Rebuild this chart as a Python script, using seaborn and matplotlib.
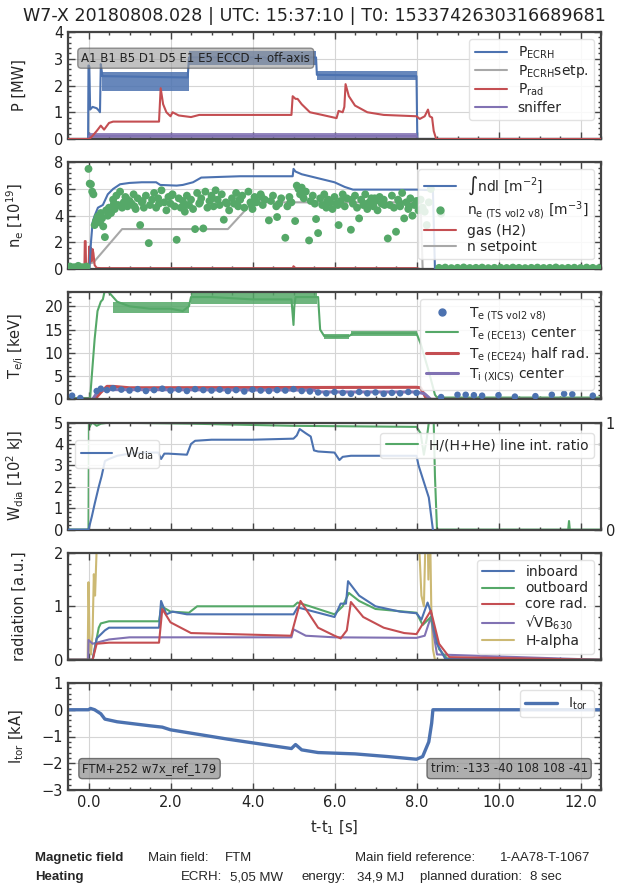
import numpy as np
import pandas as pd
import seaborn as sns
import matplotlib.pyplot as plt
from matplotlib.ticker import MultipleLocator, AutoMinorLocator
from matplotlib.lines import Line2D

# ---------------- data (breakpoints in t-t1 [s]) ----------------
# panel 1: heating power [MW]
ecrh_t = [-0.5, -0.01, 0.0, 0.02, 0.04, 0.1, 0.2, 0.26, 0.28, 0.3, 0.34, 2.42, 2.45, 4.3, 4.35, 5.55, 5.57, 8.0, 8.02, 12.5]
ecrh_v = [0, 0, 2.75, 2.7, 1.1, 1.2, 1.15, 1.05, 1.0, 2.8, 2.35, 2.3, 3.05, 3.05, 3.0, 3.05, 2.4, 2.35, 0, 0]
# noise bands of P_ECRH, one (start, end, low, high) per heating step
ecrh_band_t0 = [0.32, 2.45, 5.57]
ecrh_band_t1 = [2.44, 5.55, 8.0]
ecrh_lo = [1.8, 2.75, 2.2]
ecrh_hi = [2.5, 3.3, 2.55]
ecrh_set_t = [-0.5, 12.5]
ecrh_set_v = [0, 0]
prad_t = [-0.5, 0.02, 0.1, 0.2, 0.3, 0.38, 0.5, 0.6, 1.72, 1.76, 1.82, 1.9, 2.0, 2.05, 2.2, 2.5, 2.7, 4.95,
          4.98, 5.05, 5.1, 5.2, 5.4, 5.7, 6.05, 6.1, 6.2, 6.24, 6.27, 6.35, 6.5, 6.8, 7.2, 8.0, 8.08, 8.2,
          8.28, 8.32, 8.38, 8.42, 8.48, 12.5]
prad_v = [0, 0, 0.12, 0.3, 0.5, 0.35, 0.6, 0.65, 0.65, 1.9, 1.3, 1.0, 0.85, 1.0, 0.88, 0.82, 0.9, 0.9,
          1.6, 1.5, 1.5, 1.3, 1.0, 0.9, 0.78, 1.05, 1.0, 1.2, 2.05, 1.6, 1.25, 1.0, 0.9, 0.85, 0.75, 0.85,
          1.1, 0.85, 0.8, 0.3, 0, 0]
sniff_t = [-0.5, 0.0, 0.02, 8.0, 8.02, 12.5]
sniff_v = [0, 0, 0.12, 0.12, 0, 0]
sniff_lo = [0.03]
sniff_hi = [0.22]

# panel 2: density [1e19]
ndl_t = [-0.5, 0.02, 0.06, 0.1, 0.15, 0.23, 0.35, 0.47, 0.6, 0.77, 1.0, 1.3, 1.65, 1.75, 2.15, 2.3, 2.55,
         2.75, 3.2, 3.7, 4.98, 5.0, 5.05, 5.2, 5.6, 6.0, 6.25, 6.45, 8.0, 8.4, 8.45, 12.5]
ndl_v = [0, 0, 2.0, 3.5, 4.0, 4.6, 4.8, 5.6, 6.0, 6.35, 6.45, 6.5, 6.5, 6.3, 6.25, 6.3, 6.5,
         6.85, 6.9, 6.95, 6.95, 7.5, 7.3, 7.1, 6.8, 6.5, 6.15, 5.95, 5.95, 5.9, 0, 0]
nset_t = [-0.5, 0.12, 0.82, 3.4, 4.0, 8.1, 8.15, 12.5]
nset_v = [0, 0.5, 3.0, 3.0, 5.0, 5.0, 0, 0]
gas_t = [-0.5, -0.1, -0.09, -0.07, -0.06, 0.0, 0.02, 0.04, 0.06, 0.08, 0.1, 0.12, 0.15, 0.2, 0.3,
         4.98, 5.0, 5.04, 8.0, 8.1, 12.5]
gas_v = [0, 0, 2.1, 2.1, 0.1, 0.1, 1.7, 0.5, 1.6, 0.6, 1.5, 1.2, 0.3, 0.1, 0.08,
         0.08, 0.22, 0.08, 0.08, 0, 0]
ts_ne_t = [-0.45, -0.35, -0.25, -0.15, -0.05,
           0.0, 0.03, 0.06, 0.09, 0.12, 0.15, 0.18, 0.22, 0.25, 0.28, 0.3, 0.33, 0.36, 0.4, 0.43, 0.47,
           0.5, 0.55, 0.6, 0.64, 0.68, 0.72, 0.77, 0.82, 0.86, 0.9, 0.95, 1.0, 1.05, 1.1, 1.15, 1.2,
           1.26, 1.3, 1.35, 1.4, 1.47, 1.5, 1.55, 1.6, 1.65, 1.7, 1.78, 1.85, 1.9, 1.95, 2.0, 2.05,
           2.1, 2.15, 2.2, 2.25, 2.3, 2.35, 2.4, 2.45, 2.5, 2.55, 2.6, 2.65, 2.7, 2.75, 2.8, 2.85,
           2.9, 2.95, 3.0, 3.05, 3.1, 3.15, 3.2, 3.25, 3.3, 3.35, 3.43, 3.5, 3.55, 3.6, 3.65, 3.7,
           3.75, 3.8, 3.9, 3.95, 4.0, 4.05, 4.1, 4.2, 4.25, 4.3, 4.4, 4.45, 4.5, 4.6, 4.65, 4.7,
           4.8, 4.85, 4.9, 4.95, 5.04, 5.08, 5.12, 5.16, 5.2, 5.25, 5.3, 5.38, 5.42, 5.47, 5.55,
           5.6, 5.65, 5.7, 5.75, 5.8, 5.85, 5.9, 5.95, 6.0, 6.05, 6.1, 6.15, 6.2, 6.25, 6.3, 6.4,
           6.45, 6.5, 6.55, 6.6, 6.65, 6.7, 6.75, 6.8, 6.85, 6.9, 6.95, 7.0, 7.05, 7.1, 7.15, 7.2,
           7.3, 7.35, 7.4, 7.45, 7.5, 7.55, 7.6, 7.65, 7.7, 7.75, 7.8, 7.85, 7.9, 7.95, 8.0, 8.05,
           8.1, 8.15, 8.2, 8.25, 8.3, 8.35, 8.6,
           0.62, 0.92, 1.12, 1.32, 1.72, 2.02, 2.38, 2.72, 3.02, 3.38, 3.68, 3.98, 4.22, 4.58, 4.92,
           5.22, 5.52, 5.82, 6.08, 6.42, 6.72, 6.98, 7.22, 7.58, 7.82,
           8.55, 8.7, 8.85, 9.0, 9.15, 9.3, 9.45, 9.6, 9.75, 9.9, 10.05, 10.2, 10.35, 10.5, 10.65,
           10.8, 10.95, 11.1, 11.25, 11.4, 11.55, 11.7, 11.85, 12.0, 12.15, 12.3, 12.45]
ts_ne_v = [0.2, 0.15, 0.25, 0.15, 0.2,
           7.5, 6.4, 6.35, 5.8, 5.6, 3.3, 3.6, 3.9, 4.0, 3.5, 4.2, 3.8, 3.2, 2.4, 4.4, 4.0,
           4.6, 4.2, 5.2, 4.5, 5.5, 4.8, 5.8, 4.6, 5.0, 5.4, 4.7, 5.1, 4.9, 5.6, 4.5, 5.3,
           3.3, 5.0, 4.6, 5.5, 1.95, 4.8, 5.2, 5.7, 4.6, 5.3, 5.9, 5.0, 4.4, 5.4, 4.9, 5.6,
           4.7, 2.2, 5.3, 4.6, 5.1, 4.3, 5.5, 4.8, 5.2, 4.5, 3.0, 5.7, 4.9, 5.3, 3.05, 5.8,
           4.6, 5.1, 5.5, 4.7, 5.9, 5.2, 4.8, 5.6, 3.7, 5.0, 4.4, 5.3, 4.9, 5.7, 4.7, 5.2,
           5.5, 4.6, 5.8, 5.0, 4.5, 5.4, 5.0, 5.6, 4.8, 5.2, 3.65, 5.1, 5.5, 3.9, 4.9, 5.3,
           2.35, 4.7, 5.4, 5.0, 3.6, 6.25, 6.0, 5.6, 6.1, 5.3, 5.8, 2.15, 5.1, 5.5, 3.75,
           2.7, 5.3, 4.8, 5.6, 4.6, 5.2, 5.0, 4.5, 5.4, 4.9, 3.3, 5.1, 5.6, 4.7, 5.3, 2.95,
           4.9, 5.5, 4.6, 3.8, 5.2, 4.8, 5.6, 4.5, 5.0, 5.3, 4.7, 5.1, 4.4, 5.4, 4.9, 5.2,
           2.3, 4.8, 5.5, 4.6, 2.8, 5.2, 4.7, 5.7, 3.8, 5.0, 4.5, 5.3, 4.0, 4.8, 5.1, 4.4,
           5.2, 4.6, 4.3, 3.3, 5.0, 6.0, 4.15,
           4.9, 5.3, 4.7, 5.1, 4.9, 5.5, 4.8, 5.0, 5.3, 4.9, 5.2, 4.8, 5.4, 4.7, 5.0,
           5.5, 4.9, 5.1, 4.8, 5.2, 4.9, 5.3, 4.8, 5.0, 4.7,
           0.1, 0.12, 0.08, 0.1, 0.13, 0.09, 0.1, 0.12, 0.08, 0.1, 0.11, 0.09, 0.12, 0.1, 0.08,
           0.1, 0.12, 0.09, 0.1, 0.13, 0.08, 0.1, 0.11, 0.09, 0.12, 0.1, 0.08]

# panel 3: temperatures [keV]
ece13_t = [-0.5, 0.04, 0.08, 0.15, 0.22, 0.3, 0.35, 0.4, 0.5, 0.7, 1.0, 1.5, 2.0, 2.3, 2.45, 2.5, 3.0, 4.0,
           4.95, 5.0, 5.02, 5.05, 5.1, 5.6, 5.65, 5.75, 6.0, 6.35, 6.45, 7.0, 8.0, 8.1, 8.3, 8.45, 8.5, 12.5]
ece13_v = [0.3, 0.3, 5.0, 13.0, 19.0, 21.0, 21.5, 23.5, 23.0, 21.0, 20.0, 19.5, 19.5, 19.0, 20.0, 22.0, 22.0, 21.5,
           21.5, 16.0, 20.0, 22.0, 22.0, 22.0, 15.0, 13.6, 13.5, 13.6, 14.2, 14.2, 14.2, 12.0, 6.0, 1.0, 0.4, 0.4]
ece13_band_t0 = [0.6, 2.5, 5.75, 6.4]
ece13_band_t1 = [2.45, 5.58, 6.35, 8.0]
ece13_lo = [18.6, 20.6, 13.0, 13.6]
ece13_hi = [21.0, 23.5, 14.1, 14.7]
ece24_t = [-0.5, 0.15, 0.3, 0.45, 0.6, 1.0, 8.0, 8.1, 8.25, 12.5]
ece24_v = [0, 0, 1.5, 2.8, 2.8, 2.5, 2.6, 2.5, 0, 0]
xics_t = [-0.5, 0.1, 0.25, 0.5, 5.5, 5.6, 8.0, 8.2, 8.35, 12.5]
xics_v = [0, 0, 2.0, 2.1, 2.0, 1.6, 1.6, 1.2, 0, 0]
ts_te_t = [-0.4, -0.2, 0.2, 0.3, 0.45, 0.6, 0.8, 1.0, 1.2, 1.4, 1.6, 1.8, 2.0, 2.2, 2.4, 2.6, 2.8, 3.0,
           3.2, 3.4, 3.6, 3.8, 4.0, 4.2, 4.4, 4.6, 4.8, 5.0, 5.2, 5.4, 5.6, 5.8, 6.0, 6.2, 6.4, 6.6,
           6.8, 7.0, 7.2, 7.4, 7.6, 7.8, 8.0,
           8.6, 9.0, 9.2, 9.4, 9.6, 10.0, 10.4, 10.9, 11.3, 11.6, 11.8, 12.3]
ts_te_v = [0.8, 0.3, 1.8, 2.3, 2.0, 2.4, 2.1, 1.9, 2.2, 1.8, 2.0, 2.3, 1.9, 2.1, 1.8, 2.2, 2.0, 1.9,
           2.1, 1.8, 2.0, 1.7, 2.1, 1.9, 1.8, 2.0, 1.9, 2.2, 1.8, 1.7, 1.5, 1.3, 1.6, 1.4, 1.2, 1.6,
           1.3, 1.5, 1.2, 1.4, 1.3, 1.6, 1.4,
           0.5, 1.0, 1.0, 0.9, 0.8, 0.9, 0.6, 0.7, 1.0, 1.2, 1.1, 0.8]

# panel 4: diamagnetic energy [1e2 kJ] and H/(H+He) ratio
wdia_t = [-0.5, 0.0, 0.08, 0.15, 0.25, 0.32, 0.4, 0.5, 0.7, 1.0, 1.3, 1.7, 1.77, 1.85, 1.95, 2.4, 2.5, 2.6,
          3.0, 4.0, 5.0, 5.08, 5.15, 5.3, 5.42, 5.5, 5.6, 6.0, 6.12, 6.2, 6.4, 7.0, 8.0, 8.05, 8.15, 8.3, 8.4]
wdia_v = [0, 0, 0.6, 1.2, 2.0, 2.5, 3.2, 3.3, 3.45, 3.55, 3.6, 3.6, 3.3, 3.55, 3.55, 3.5, 4.0, 4.15,
          4.2, 4.2, 4.25, 4.4, 4.7, 4.5, 4.35, 3.7, 3.65, 3.6, 3.25, 3.4, 3.45, 3.45, 3.45, 3.0, 2.4, 1.5, 0]
hratio_t = [-0.5, 0.0, 0.01, 0.03, 0.05, 0.1, 0.2, 0.3, 0.5, 2.5, 5.0, 8.0, 8.1, 8.18, 8.25, 8.3, 8.42,
            8.45, 8.5, 11.7, 11.72, 11.74, 12.5]
hratio_v = [0, 0, 1.0, 0.96, 0.98, 1.0, 0.97, 0.99, 1.0, 0.99, 0.97, 0.96, 0.9, 0.7, 0.85, 1.0, 1.0,
            0.5, 0, 0, 0.08, 0, 0]

# panel 5: radiation [a.u.]
inb_t = [-0.5, 0.1, 0.2, 0.4, 0.5, 1.72, 1.77, 1.9, 2.05, 2.4, 5.0, 5.1, 5.5, 6.0, 6.15, 6.28, 6.33, 6.6,
         7.0, 7.6, 8.0, 8.12, 8.27, 8.35, 8.5, 8.7, 12.5]
inb_v = [0, 0, 0.4, 0.55, 0.6, 0.6, 1.1, 0.85, 0.9, 0.85, 0.85, 0.98, 0.9, 0.8, 1.05, 1.05, 1.47, 1.2,
         1.0, 0.9, 0.87, 0.75, 1.07, 0.9, 0.3, 0.02, 0]
outb_t = [-0.5, 0.1, 0.25, 0.3, 0.5, 1.72, 1.78, 2.0, 2.45, 2.65, 5.0, 5.1, 5.4, 6.0, 6.2, 6.35, 6.6,
          7.0, 8.0, 8.15, 8.35, 8.55, 8.75, 12.5]
outb_v = [0, 0, 0.6, 0.68, 0.72, 0.72, 1.0, 0.9, 0.88, 1.0, 1.0, 1.07, 1.0, 0.85, 1.0, 1.25, 1.1,
          0.95, 0.88, 0.65, 0.8, 0.2, 0.02, 0]
core_t = [-0.5, 0.1, 0.2, 0.5, 1.72, 1.8, 2.0, 2.5, 4.94, 5.17, 5.6, 6.0, 6.15, 6.3, 6.4, 6.7, 7.2,
          7.7, 8.0, 8.35, 8.55, 8.8, 12.5]
core_v = [0, 0, 0.3, 0.32, 0.32, 0.95, 0.7, 0.5, 0.45, 1.1, 0.6, 0.45, 0.4, 0.55, 1.08, 0.8, 0.6,
          0.5, 0.48, 0.92, 0.3, 0.05, 0]
svb_t = [-0.5, -0.01, 0.0, 0.1, 0.25, 0.5, 1.0, 4.95, 5.0, 5.3, 6.0, 8.0, 8.2, 8.35, 8.5, 12.5]
svb_v = [0, 0, 0.37, 0.3, 0.33, 0.38, 0.42, 0.42, 0.57, 0.45, 0.42, 0.41, 0.45, 0.8, 0.1, 0]
halpha_t = [-0.5, -0.02, 0.0, 0.03, 0.06, 0.1, 0.13, 0.16, 0.2, 0.25, 0.3, 8.0, 8.05, 8.12, 8.18, 8.22,
            8.26, 8.29, 8.32, 8.36, 8.4, 8.45, 12.5]
halpha_v = [0, 0, 1.45, 0.2, 0.1, 0.5, 1.6, 1.2, 2.1, 3.0, 3.0, 3.0, 2.4, 1.2, 1.0, 2.3,
            3.0, 1.5, 3.0, 1.0, 0.2, 0, 0]

# panel 6: toroidal current [kA]
itor_t = [-0.5, 0.0, 0.05, 0.15, 0.3, 0.4, 0.7, 1.5, 1.8, 2.0, 2.6, 3.4, 4.5, 4.95, 5.05, 5.2, 5.6,
          6.5, 7.3, 8.0, 8.15, 8.3, 8.37, 8.4, 12.5]
itor_v = [0, 0, 0.05, 0.0, -0.15, -0.35, -0.45, -0.6, -0.65, -0.75, -0.9, -1.1, -1.35, -1.45, -1.3,
          -1.5, -1.6, -1.65, -1.75, -1.85, -1.75, -1.2, -0.5, 0, 0]

# ---------------- style ----------------
sns.set_theme(style="whitegrid", palette="deep")
plt.rcParams["font.family"] = ["DejaVu Sans"]
plt.rcParams.update({
    "mathtext.default": "regular",
    "axes.edgecolor": "#444444",
    "axes.linewidth": 1.6,
    "grid.color": "#d5d5d5",
    "grid.linewidth": 0.8,
    "xtick.direction": "in", "ytick.direction": "in",
    "xtick.top": True, "ytick.right": True,
    "xtick.bottom": True, "ytick.left": True,
    "xtick.major.size": 5, "ytick.major.size": 5,
    "xtick.minor.size": 2.5, "ytick.minor.size": 2.5,
    "xtick.major.width": 1.0, "ytick.major.width": 1.0,
    "xtick.color": "#444444", "ytick.color": "#444444",
    "xtick.labelcolor": "#222222", "ytick.labelcolor": "#222222",
    "xtick.labelsize": 10.5, "ytick.labelsize": 10.5,
    "axes.labelsize": 10.5,
    "legend.fontsize": 10,
})

pal = sns.color_palette("deep")
blue, green, red, purple, khaki = pal[0], pal[2], pal[3], pal[4], pal[8]
gray = "#a8a8a8"


def line(ax, t, v, color, label=None, lw=1.5, z=2):
    sns.lineplot(x=t, y=v, ax=ax, color=color, lw=lw, estimator=None, sort=False, legend=False, zorder=z)
    ln = ax.lines[-1]
    if label:
        ln.set_label(label)
    return ln


def bands(ax, t0, t1, lo, hi, color):
    # noisy signal shown as a filled band per flat segment
    for a, b, l, h in zip(t0, t1, lo, hi):
        ax.fill_between([a, b], [l, l], [h, h], color=color, lw=0, alpha=0.85, zorder=2)


def legend(ax, handles, **kw):
    lg = ax.legend(handles=handles, frameon=True, fancybox=True, framealpha=0.85, edgecolor="#dddddd",
                   handlelength=2.3, labelspacing=0.15, borderpad=0.4, **kw)
    return lg


fig = plt.figure(figsize=(6.28, 8.86), dpi=100)
W, H = 628, 886
x0, x1 = 68, 601
axes = []
for i in range(6):
    top = 32 + i * 130.2
    ax = fig.add_axes([x0 / W, 1 - (top + 107) / H, (x1 - x0) / W, 107 / H])
    ax.set_xlim(-0.5, 12.5)
    ax.xaxis.set_major_locator(MultipleLocator(2))
    ax.xaxis.set_minor_locator(AutoMinorLocator(4))
    ax.yaxis.set_minor_locator(AutoMinorLocator(5))
    ax.grid(True, which="major")
    ax.grid(False, which="minor")
    if i < 5:
        ax.tick_params(labelbottom=False)
    axes.append(ax)

box = dict(boxstyle="round,pad=0.3", fc="#9a9a9a", ec="#555555", alpha=0.6)

# ---- panel 1
ax = axes[0]
bands(ax, ecrh_band_t0, ecrh_band_t1, ecrh_lo, ecrh_hi, blue)
h1 = line(ax, ecrh_t, ecrh_v, blue, r"P$_{ECRH}$")
h2 = line(ax, ecrh_set_t, ecrh_set_v, gray, r"P$_{ECRH}$setp.")
bands(ax, [0.02], [8.0], sniff_lo, sniff_hi, purple)
h4 = line(ax, sniff_t, sniff_v, purple, "sniffer")
h3 = line(ax, prad_t, prad_v, red, r"P$_{rad}$", z=3)
ax.set_ylim(0, 4)
ax.yaxis.set_major_locator(MultipleLocator(1))
ax.set_ylabel("P [MW]")
legend(ax, [h1, h2, h3, h4], loc="upper right")
ax.text(0.025, 0.755, "A1 B1 B5 D1 D5 E1 E5 ECCD + off-axis", transform=ax.transAxes,
        fontsize=8.5, va="center", ha="left", color="#222222", bbox=box, zorder=5)

# ---- panel 2
ax = axes[1]
h1 = line(ax, ndl_t, ndl_v, blue, r"∫ndl [m$^{-2}$]", z=3)
h4 = line(ax, nset_t, nset_v, gray, "n setpoint")
h3 = line(ax, gas_t, gas_v, red, "gas (H2)")
sns.scatterplot(x=ts_ne_t, y=ts_ne_v, ax=ax, color=green, s=32, edgecolor="none", zorder=4, legend=False)
h2 = Line2D([], [], marker="o", ls="none", color=green, markersize=5,
            label=r"n$_{e\ (TS\ vol2\ v8)}$ [m$^{-3}$]")
ax.set_ylim(0, 8)
ax.yaxis.set_major_locator(MultipleLocator(2))
ax.set_ylabel(r"n$_{e}$ [10$^{19}$]")
legend(ax, [h1, h2, h3, h4], loc="upper right")

# ---- panel 3
ax = axes[2]
bands(ax, ece13_band_t0, ece13_band_t1, ece13_lo, ece13_hi, green)
h2 = line(ax, ece13_t, ece13_v, green, r"T$_{e\ (ECE13)}$ center")
h3 = line(ax, ece24_t, ece24_v, red, r"T$_{e\ (ECE24)}$ half rad.", lw=2.2)
h4 = line(ax, xics_t, xics_v, purple, r"T$_{i\ (XICS)}$ center", lw=2.2)
sns.scatterplot(x=ts_te_t, y=ts_te_v, ax=ax, color=blue, s=22, edgecolor="none", zorder=4, legend=False)
h1 = Line2D([], [], marker="o", ls="none", color=blue, markersize=5, label=r"T$_{e\ (TS\ vol2\ v8)}$")
ax.set_ylim(0, 23)
ax.yaxis.set_major_locator(MultipleLocator(5))
ax.set_ylabel(r"T$_{e/i}$ [keV]")
legend(ax, [h1, h2, h3, h4], loc="upper right")

# ---- panel 4
ax = axes[3]
ax.tick_params(right=False, which="both")
axr = ax.twinx()
axr.grid(False)
h2 = line(axr, hratio_t, hratio_v, green, "H/(H+He) line int. ratio")
axr.set_ylim(0, 1)
axr.set_yticks([0, 1])
axr.yaxis.set_minor_locator(MultipleLocator(0.2))
axr.tick_params(axis="y", which="both", direction="in", right=True)
axr.spines[:].set_visible(False)
h1 = line(ax, wdia_t, wdia_v, blue, r"W$_{dia}$", z=3)
ax.set_zorder(axr.get_zorder() + 1)
ax.patch.set_visible(False)
ax.set_ylim(0, 5)
ax.yaxis.set_major_locator(MultipleLocator(1))
ax.set_ylabel(r"W$_{dia}$ [10$^{2}$ kJ]")
lg = legend(ax, [h1], loc="upper left", bbox_to_anchor=(0.0, 0.9))
ax.add_artist(lg)
legend(ax, [h2], loc="upper right", bbox_to_anchor=(1.0, 0.97))

# ---- panel 5
ax = axes[4]
h5 = line(ax, halpha_t, halpha_v, khaki, "H-alpha")
h4 = line(ax, svb_t, svb_v, purple, r"√VB$_{630}$")
h2 = line(ax, outb_t, outb_v, green, "outboard")
h1 = line(ax, inb_t, inb_v, blue, "inboard")
h3 = line(ax, core_t, core_v, red, "core rad.")
ax.set_ylim(0, 2)
ax.yaxis.set_major_locator(MultipleLocator(1))
ax.set_ylabel("radiation [a.u.]")
legend(ax, [h1, h2, h3, h4, h5], loc="upper right")

# ---- panel 6
ax = axes[5]
h1 = line(ax, itor_t, itor_v, blue, r"I$_{tor}$", lw=2.4)
ax.set_ylim(-3, 1)
ax.yaxis.set_major_locator(MultipleLocator(1))
ax.set_ylabel(r"I$_{tor}$ [kA]")
ax.set_xticks(np.arange(0, 13, 2))
ax.set_xticklabels([f"{v:.1f}" for v in np.arange(0, 13, 2)])
ax.set_xlabel(r"t-t$_1$ [s]", labelpad=6)
legend(ax, [h1], loc="upper right")
box6 = dict(box, alpha=0.8)
ax.text(0.027, 0.2, "FTM+252 w7x_ref_179", transform=ax.transAxes, fontsize=8.5,
        va="center", ha="left", color="#222222", bbox=box6, zorder=5)
ax.text(0.975, 0.2, "trim: -133 -40 108 108 -41", transform=ax.transAxes, fontsize=8.5,
        va="center", ha="right", color="#222222", bbox=box6, zorder=5)

for ax in axes:
    ax.yaxis.set_label_coords(-0.078, 0.5)

fig.text(0.5, 1 - 16 / H, "W7-X 20180808.028 | UTC: 15:37:10 | T0: 1533742630316689681",
         ha="center", va="center", fontsize=12.6, color="#222222")

# ---- footer
ff = ["Liberation Sans", "DejaVu Sans"]
row1, row2 = 1 - 858 / H, 1 - 877 / H
fig.text(35 / W, row1, "Magnetic field", fontsize=9.5, weight="bold", family=ff, va="center")
fig.text(148 / W, row1, "Main field:", fontsize=9.5, family=ff, va="center")
fig.text(225 / W, row1, "FTM", fontsize=9.5, family=ff, va="center")
fig.text(355 / W, row1, "Main field reference:", fontsize=9.5, family=ff, va="center")
fig.text(500 / W, row1, "1-AA78-T-1067", fontsize=9.5, family=ff, va="center")
fig.text(35 / W, row2, "Heating", fontsize=9.5, weight="bold", family=ff, va="center")
fig.text(222 / W, row2, "ECRH:", fontsize=9.5, family=ff, va="center", ha="right")
fig.text(230 / W, row2, "5,05 MW", fontsize=9.5, family=ff, va="center")
fig.text(302 / W, row2, "energy:", fontsize=9.5, family=ff, va="center")
fig.text(357 / W, row2, "34,9 MJ", fontsize=9.5, family=ff, va="center")
fig.text(420 / W, row2, "planned duration:", fontsize=9.5, family=ff, va="center")
fig.text(530 / W, row2, "8 sec", fontsize=9.5, family=ff, va="center")

fig.savefig("out.png", dpi=100)
